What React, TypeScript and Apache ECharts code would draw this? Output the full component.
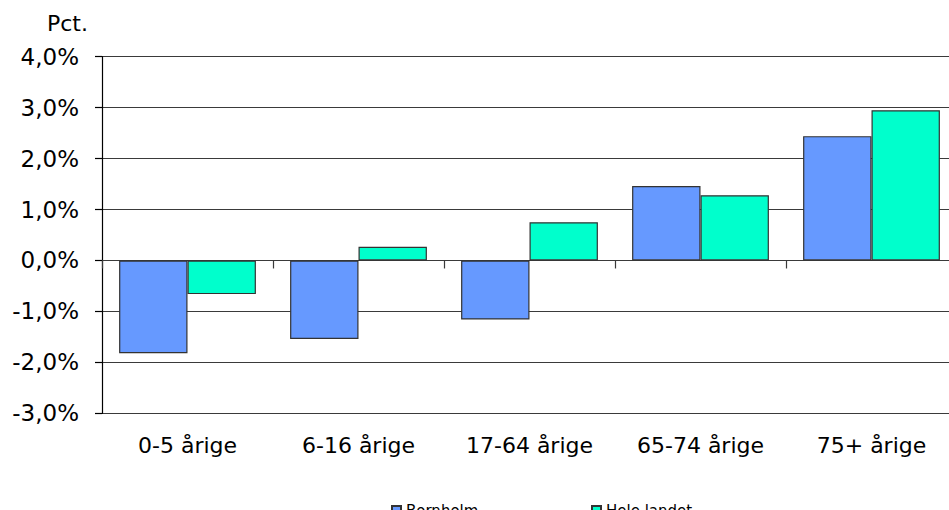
import React, { useEffect, useRef } from "react";
import * as echarts from "echarts";

const categories = ["0-5 årige", "6-16 årige", "17-64 årige", "65-74 årige", "75+ årige"];
const bornholm = [-1.82, -1.54, -1.16, 1.46, 2.44];
const heleLandet = [-0.66, 0.27, 0.75, 1.28, 2.95];
const seriesNames = ["Bornholm", "Hele landet"];
const yMin = -3;
const yMax = 4;
const yInterval = 1;
const yUnitLabel = "Pct.";

const FONT = "'DejaVu Sans', Verdana, sans-serif";

export default function App() {
  const ref = useRef<HTMLDivElement>(null);
  useEffect(() => {
    if (!ref.current) return;
    const chart = echarts.init(ref.current, null, { renderer: "svg" });
    const legendBase = {
      top: 503,
      padding: 0,
      itemWidth: 9,
      itemHeight: 9,
      icon: "rect",
      textStyle: { fontFamily: FONT, fontSize: 15, color: "#000" },
    };
    chart.setOption({
      animation: false,
      backgroundColor: "#ffffff",
      textStyle: { fontFamily: FONT },
      grid: { left: 102, top: 56.7, width: 855, height: 356.6, containLabel: false },
      legend: [
        { ...legendBase, left: 391, data: [seriesNames[0]] },
        { ...legendBase, left: 591, data: [seriesNames[1]] },
      ],
      graphic: [
        {
          type: "text",
          left: 47,
          top: 12,
          style: { text: yUnitLabel, fontFamily: FONT, fontSize: 22, fill: "#000" },
        },
      ],
      xAxis: [
        {
          type: "category",
          data: categories,
          position: "bottom",
          axisLine: { show: false, onZero: false },
          axisTick: { show: false },
          axisLabel: { fontFamily: FONT, fontSize: 22, color: "#000", margin: 21 },
          splitLine: { show: false },
        },
        {
          type: "category",
          data: categories,
          position: "bottom",
          axisLine: { show: true, onZero: true, lineStyle: { color: "#3a3a3a", width: 1.2 } },
          axisTick: { show: true, length: 8, lineStyle: { color: "#3a3a3a", width: 1.2 } },
          axisLabel: { show: false },
          splitLine: { show: false },
        },
      ],
      yAxis: {
        type: "value",
        min: yMin,
        max: yMax,
        interval: yInterval,
        axisLine: { show: true, lineStyle: { color: "#000", width: 1.2 } },
        axisTick: { show: true, length: 7, lineStyle: { color: "#000", width: 1.2 } },
        axisLabel: {
          fontFamily: FONT,
          fontSize: 23,
          color: "#000",
          margin: 23,
          formatter: (v: number) => v.toFixed(1).replace(".", ",") + "%",
        },
        splitLine: { show: true, lineStyle: { color: "#3a3a3a", width: 1.2 } },
      },
      series: [
        {
          name: seriesNames[0],
          type: "bar",
          xAxisIndex: 0,
          data: bornholm,
          barGap: "0%",
          barCategoryGap: "20%",
          itemStyle: { color: "#6699FF", borderColor: "#333333", borderWidth: 1.2 },
        },
        {
          name: seriesNames[1],
          type: "bar",
          xAxisIndex: 0,
          data: heleLandet,
          barGap: "0%",
          barCategoryGap: "20%",
          itemStyle: { color: "#00FFCC", borderColor: "#333333", borderWidth: 1.2 },
        },
      ],
    });
    return () => chart.dispose();
  }, []);
  return (
    <div
      style={{
        position: "absolute",
        left: 0,
        top: 0,
        width: 949,
        height: 510,
        overflow: "hidden",
        background: "#fff",
      }}
    >
      <div ref={ref} style={{ position: "absolute", left: 0, top: 0, width: 970, height: 510 }} />
    </div>
  );
}
